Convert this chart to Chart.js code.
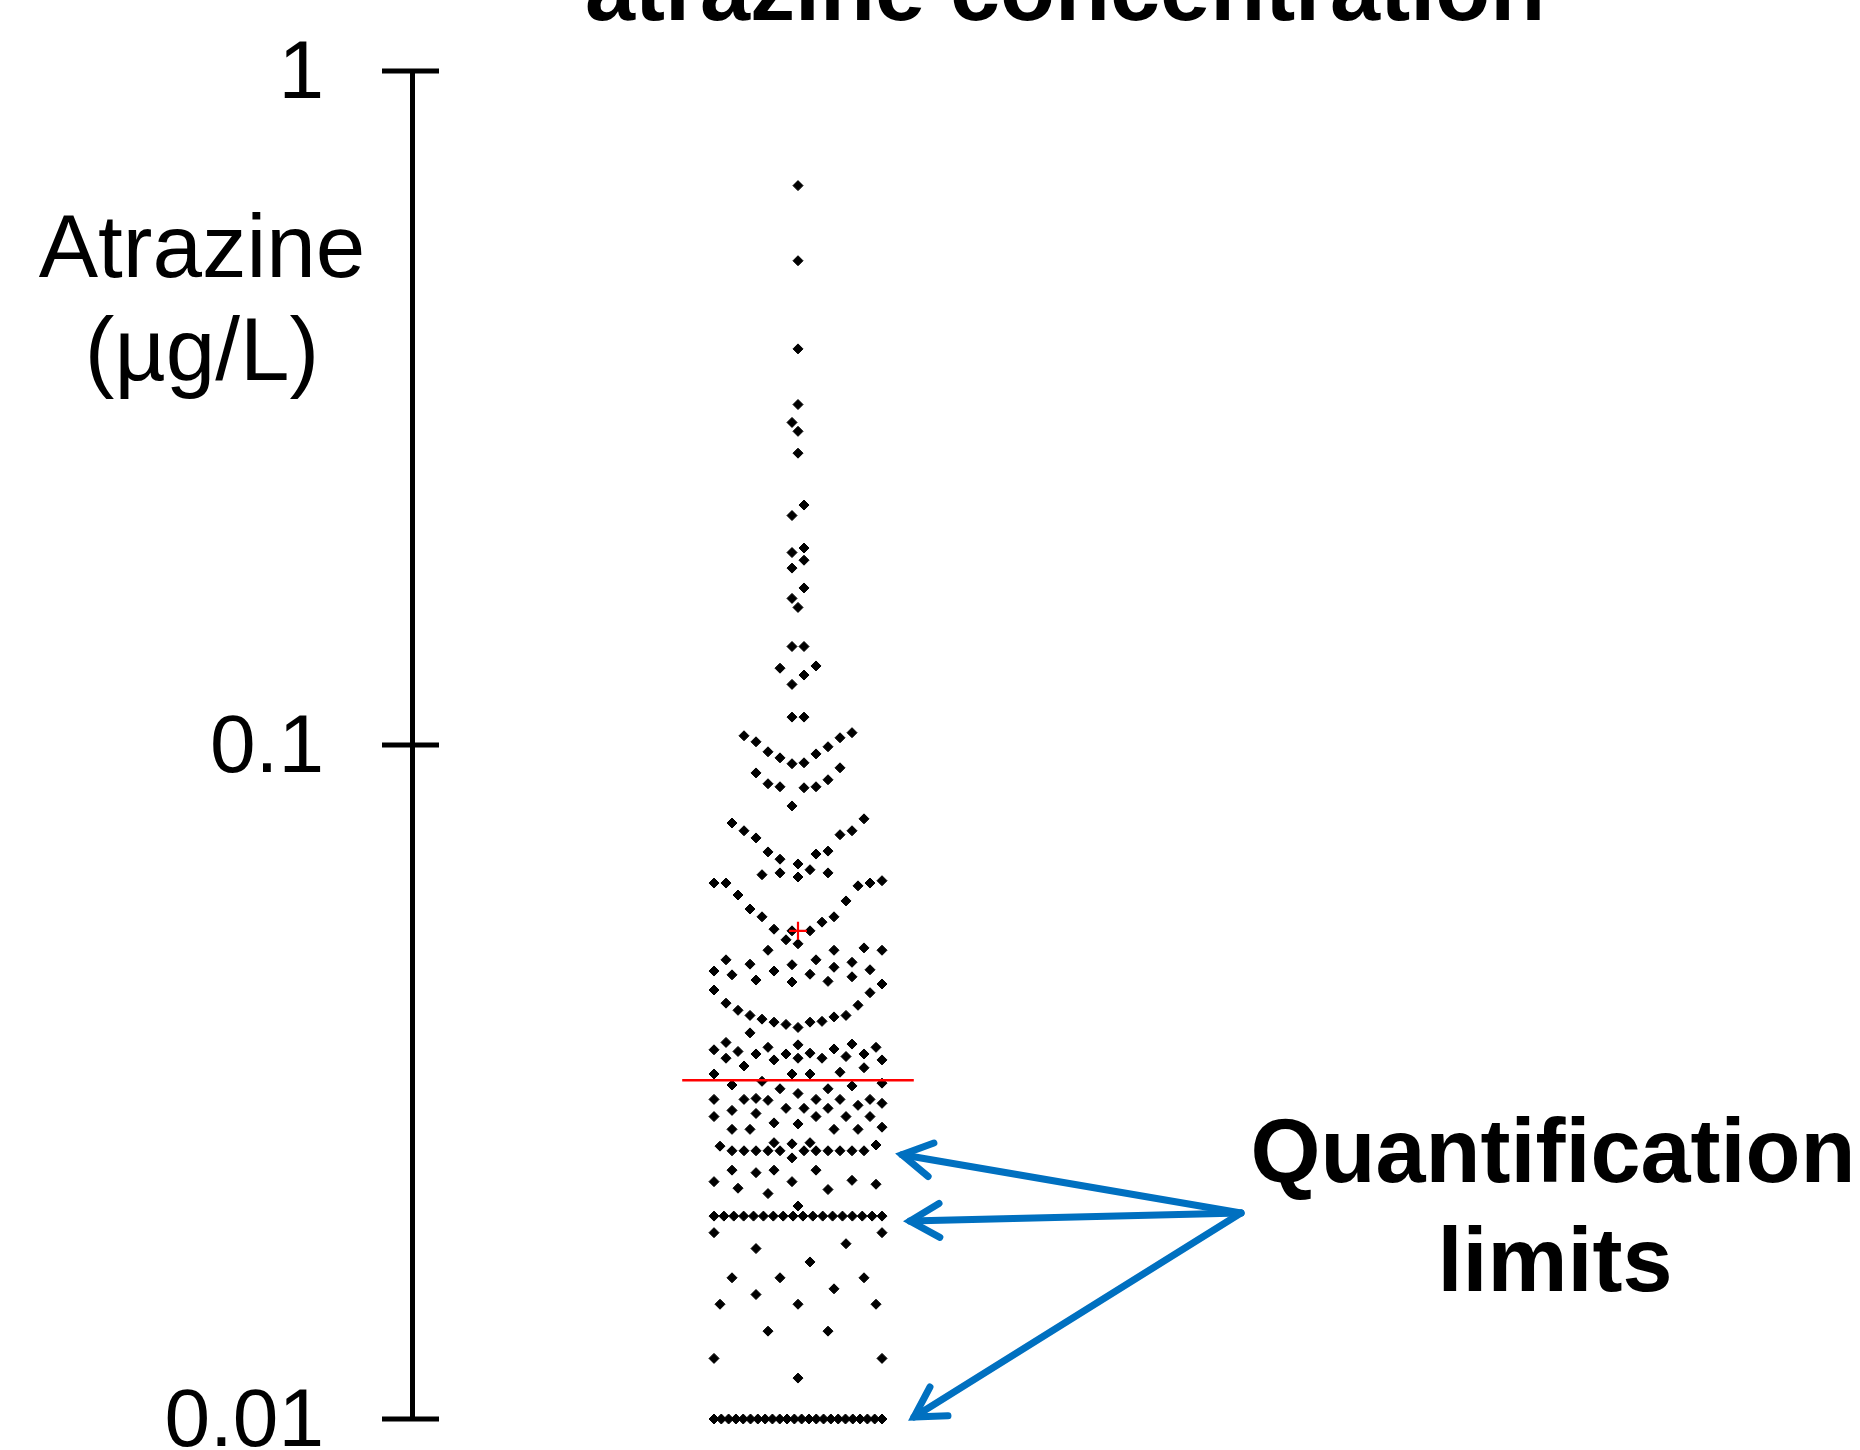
<!DOCTYPE html>
<html>
<head>
<meta charset="utf-8">
<script src="https://cdn.jsdelivr.net/npm/chart.js@4"></script>
<style>
  html, body { margin: 0; padding: 0; background: #fff; }
  canvas { display: block; }
</style>
</head>
<body>
<canvas id="chart" width="1860" height="1450"></canvas>
<script>
const chartTitle = "atrazine concentration"
const axisLabel = ["Atrazine", "(µg/L)"]
const noteLines = ["Quantification", "limits"]

const tickValues = [0.01, 0.1, 1]
const tickLabels = ["0.01", "0.1", "1"]

// samples reported at a quantification limit, and how many at each
const quantLimits = [0.01, 0.02, 0.025]
const limitCounts = [24, 18, 11]

// measured samples, µg/L, read from top to bottom
const upperValues = [
  0.676, 0.523, 0.387, 0.320, 0.301, 0.292, 0.271, 0.227, 0.219, 0.196, 0.193, 0.188,
  0.183, 0.171, 0.165, 0.160, 0.140, 0.140, 0.131, 0.130, 0.127, 0.123, 0.110, 0.110
]
const middleValues = [
  0.1043, 0.1032, 0.1025, 0.1011, 0.0994, 0.0977, 0.0970, 0.0957, 0.0941, 0.0938,
  0.0925, 0.0909, 0.0888, 0.0876, 0.0867, 0.0867, 0.0864, 0.0812,
  0.0777, 0.0766, 0.0746, 0.0746, 0.0736, 0.0728, 0.0696, 0.0694, 0.0689, 0.0677, 0.0666, 0.0653,
  0.0646, 0.0646, 0.0642, 0.0637, 0.0629, 0.0624, 0.0624, 0.0624, 0.0618, 0.0599, 0.0587, 0.0571,
  0.0556, 0.0556, 0.0546, 0.0533, 0.0530, 0.0530, 0.0514,
  0.0507, 0.0500, 0.0496, 0.0496, 0.0496, 0.0480, 0.0480, 0.0476, 0.0473, 0.0472, 0.0468, 0.0464,
  0.0462, 0.0462, 0.0457, 0.0456, 0.0453, 0.0448, 0.0446, 0.0445, 0.0442, 0.0433, 0.0429, 0.0414,
  0.0411, 0.0404, 0.0397, 0.0397, 0.0395, 0.0392, 0.0389, 0.0388, 0.0388, 0.0385, 0.0381, 0.0374
]
const lowerValues = [
  0.0362, 0.0360, 0.0359, 0.0356, 0.0356, 0.0354, 0.0353, 0.0351, 0.0349, 0.0348, 0.0348, 0.0348,
  0.0345, 0.0343, 0.0343, 0.0343, 0.0341, 0.0341,
  0.0334, 0.0332, 0.0327, 0.0325, 0.0325, 0.0325, 0.0317, 0.0315, 0.0313, 0.0312, 0.0309, 0.0309, 0.0304,
  0.0299, 0.0298, 0.0298, 0.0298, 0.0298, 0.0298, 0.0297, 0.0294, 0.0292,
  0.0289, 0.0289, 0.0289, 0.0287, 0.0284, 0.0281, 0.0281, 0.0281, 0.0281, 0.0275, 0.0274, 0.0271,
  0.0269, 0.0269, 0.0269, 0.0269,
  0.0257, 0.0257, 0.0256, 0.0255, 0.0254, 0.0244
]
const bottomValues = [
  0.0234, 0.0234, 0.0234, 0.0232, 0.0226, 0.0225, 0.0225, 0.0223, 0.0220, 0.0219, 0.0216, 0.0207,
  0.0189, 0.0189, 0.0182, 0.0179, 0.0171, 0.0162, 0.0162, 0.0162, 0.0156, 0.0153,
  0.0148, 0.0148, 0.0148, 0.0135, 0.0135, 0.0123, 0.0123, 0.0115
]

const medianValue = 0.0318
const meanValue = 0.053

const FONT = "'Liberation Sans', Arial, sans-serif"
const BLUE = "#0070C0"

// dots are grouped in value bins of this width, then spread sideways
const binWidth = 0.01375
const binOrigin = 0.0376

function allSamples() {
  const list = [...upperValues, ...middleValues, ...lowerValues, ...bottomValues]
  quantLimits.forEach((q, i) => {
    for (let k = 0; k < limitCounts[i]; k++) list.push(q)
  })
  return list
}

// lowest value of a bin sits in the middle, the rest alternate outwards.
// bins that are too tall on screen, and leftovers of full bins, go wherever
// there is most room; long runs of one value are laid out as a full row
function swarm(chart) {
  const xs = chart.scales.x, ys = chart.scales.y
  const cx = xs.getPixelForValue(0)
  const spacing = 12, maxOff = 84, minGap = 9.5, tallBin = 150
  const capacity = 2 * Math.floor(maxOff / spacing) + 1
  const grid = [0]
  for (let o = 6; o <= maxOff; o += 6) grid.push(-o, o)

  const samples = allSamples()
  const runs = new Map()
  for (const v of samples) runs.set(v, (runs.get(v) || 0) + 1)
  const runSeen = new Map()

  const bins = new Map()
  for (const v of samples) {
    const b = Math.floor((v - binOrigin) / binWidth)
    if (!bins.has(b)) bins.set(b, [])
    bins.get(b).push(v)
  }

  const placed = []
  const out = []
  const gapAt = (off, py) => {
    let g = Infinity
    for (const p of placed) {
      const dy = p.y - py
      if (Math.abs(dy) > 60) continue
      const d = Math.hypot(p.x - off, dy)
      if (d < g) g = d
    }
    return g
  }
  const roomiest = py => {
    let best = 0, bestGap = -1
    for (const c of grid) {
      const g = gapAt(c, py)
      if (g > bestGap + 0.01) { bestGap = g; best = c }
    }
    return best
  }

  for (const k of [...bins.keys()].sort((a, b) => a - b)) {
    const vals = bins.get(k).sort((a, b) => a - b)
    const n = vals.length
    const span = ys.getPixelForValue(vals[0]) - ys.getPixelForValue(vals[n - 1])
    vals.forEach((v, i) => {
      const py = ys.getPixelForValue(v)
      const run = runs.get(v)
      let off
      if (run > capacity) {
        const j = runSeen.get(v) || 0
        runSeen.set(v, j + 1)
        off = -maxOff + j * (2 * maxOff) / (run - 1)
      } else {
        const slot = n % 2
          ? (i === 0 ? 0 : (i % 2 ? -1 : 1) * Math.ceil(i / 2) * spacing)
          : (i % 2 ? 1 : -1) * (Math.floor(i / 2) * spacing + spacing / 2)
        if (span > tallBin || Math.abs(slot) > maxOff + 0.1) {
          off = roomiest(py)
        } else if (gapAt(slot, py) >= minGap) {
          off = slot
        } else {
          const near = grid.slice().sort((a, b) => Math.abs(a - slot) - Math.abs(b - slot))
          off = near.find(c => gapAt(c, py) >= minGap)
          if (off === undefined) off = roomiest(py)
        }
      }
      placed.push({x: off, y: py})
      out.push({x: xs.getValueForPixel(cx + off), y: v})
    })
  }
  return out
}

function drawArrow(ctx, x0, y0, x1, y1) {
  const headLen = 34, headAng = Math.PI / 6
  const ang = Math.atan2(y0 - y1, x0 - x1)
  ctx.beginPath()
  ctx.moveTo(x0, y0)
  ctx.lineTo(x1, y1)
  ctx.stroke()
  ctx.beginPath()
  ctx.moveTo(x1 + headLen * Math.cos(ang - headAng), y1 + headLen * Math.sin(ang - headAng))
  ctx.lineTo(x1, y1)
  ctx.lineTo(x1 + headLen * Math.cos(ang + headAng), y1 + headLen * Math.sin(ang + headAng))
  ctx.stroke()
}

// arrow tips, relative to the swarm centre and to each limit's pixel row
const arrowTipX = [116, 112, 104]
const arrowTipDy = [-2, 5, 4]

const decorations = {
  id: "decorations",
  afterDraw(chart) {
    const ctx = chart.ctx
    const y = chart.scales.y
    const area = chart.chartArea
    const cx = chart.scales.x.getPixelForValue(0)
    ctx.save()

    // tick marks crossing the axis
    ctx.strokeStyle = "#000"
    ctx.lineWidth = 5
    for (const t of y.ticks) {
      const py = y.getPixelForValue(t.value)
      ctx.beginPath()
      ctx.moveTo(area.left - 30, py)
      ctx.lineTo(area.left + 27, py)
      ctx.stroke()
    }

    ctx.fillStyle = "#000"
    ctx.textAlign = "center"
    ctx.textBaseline = "alphabetic"

    ctx.font = "bold 90px " + FONT
    ctx.fillText(chartTitle, 1065, 20)

    ctx.font = "89px " + FONT
    ctx.fillText(axisLabel[0], 202, 277)
    ctx.fillText(axisLabel[1], 202, 380)

    ctx.font = "bold 90px " + FONT
    ctx.fillText(noteLines[0], 1553, 1182)
    ctx.fillText(noteLines[1], 1555, 1291)

    ctx.strokeStyle = BLUE
    ctx.lineWidth = 7
    ctx.lineCap = "round"
    ctx.lineJoin = "miter"
    const ox = cx + 443, oy = 1213
    quantLimits.forEach((q, i) => {
      drawArrow(ctx, ox, oy, cx + arrowTipX[i], y.getPixelForValue(q) + arrowTipDy[i])
    })
    ctx.restore()
  }
}

const chart = new Chart(document.getElementById("chart"), {
  type: "scatter",
  data: {
    datasets: [
      {
        label: "mean",
        data: [{x: 0, y: meanValue}],
        pointStyle: "cross",
        pointRadius: 9,
        pointBorderColor: "#ff0000",
        pointBorderWidth: 2.2,
        order: 0
      },
      {
        label: "median",
        type: "line",
        data: [{x: -0.3, y: medianValue}, {x: 0.3, y: medianValue}],
        borderColor: "#ff0000",
        borderWidth: 2.5,
        pointRadius: 0,
        fill: false,
        order: 1
      },
      {
        label: "samples",
        data: [],
        clip: false,
        pointStyle: "rectRot",
        pointRadius: 5,
        pointBackgroundColor: "#000",
        pointBorderColor: "#000",
        pointBorderWidth: 1,
        order: 2
      }
    ]
  },
  options: {
    responsive: false,
    animation: false,
    devicePixelRatio: 1,
    events: [],
    layout: {
      padding: {top: 71, bottom: 31, left: 0, right: 676}
    },
    plugins: {
      legend: {display: false},
      title: {display: false},
      tooltip: {enabled: false}
    },
    scales: {
      x: {
        type: "linear",
        min: -1,
        max: 1,
        display: false
      },
      y: {
        type: "logarithmic",
        min: 0.01,
        max: 1,
        afterBuildTicks: s => { s.ticks = tickValues.map(v => ({value: v})) },
        afterFit: s => {
          s.width = 412
          s.paddingTop = 0
          s.paddingBottom = 0
        },
        ticks: {
          autoSkip: false,
          padding: 88,
          labelOffset: 4,
          color: "#000",
          font: {family: FONT, size: 82},
          callback: v => {
            const i = tickValues.indexOf(v)
            return i < 0 ? "" : tickLabels[i]
          }
        },
        grid: {display: false, drawTicks: false},
        border: {display: true, color: "#000", width: 5}
      }
    }
  },
  plugins: [decorations]
})

chart.data.datasets[2].data = swarm(chart)
chart.update("none")
</script>
</body>
</html>
